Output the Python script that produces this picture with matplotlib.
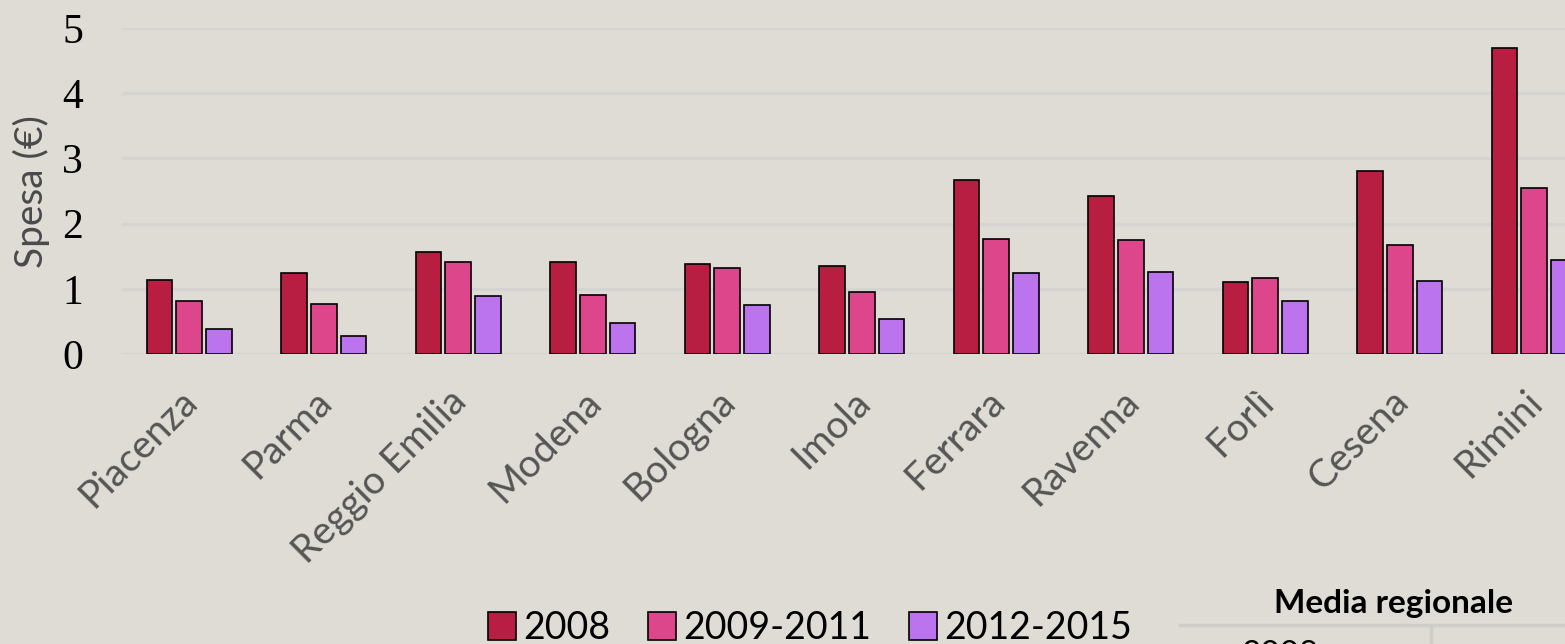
import numpy as np
import matplotlib
matplotlib.use("Agg")
import matplotlib.pyplot as plt
from matplotlib.lines import Line2D
from matplotlib.transforms import ScaledTranslation

# data
cities = ["Piacenza", "Parma", "Reggio Emilia", "Modena", "Bologna", "Imola",
          "Ferrara", "Ravenna", "Forlì", "Cesena", "Rimini"]
spesa_2008 = [1.13, 1.24, 1.56, 1.41, 1.38, 1.35, 2.67, 2.42, 1.10, 2.81, 4.69]
spesa_2009_2011 = [0.81, 0.77, 1.41, 0.90, 1.32, 0.95, 1.76, 1.75, 1.17, 1.67, 2.55]
spesa_2012_2015 = [0.38, 0.28, 0.89, 0.48, 0.75, 0.54, 1.24, 1.26, 0.81, 1.12, 1.44]
series_labels = ["2008", "2009-2011", "2012-2015"]
colors = ["#B81E42", "#DE468C", "#BC73EE"]
bg = "#DFDCD5"

fig = plt.figure(figsize=(15.65, 6.44), dpi=100, facecolor=bg)
W, H = 1565, 644
# axes spans x -0.5..10.5 ; right part is cut by the figure edge
x0, x1 = 122, 122 + 11 * 134.5
y0, y1 = 354, 28
ax = fig.add_axes([x0 / W, 1 - y0 / H, (x1 - x0) / W, (y0 - y1) / H])
ax.set_facecolor(bg)

x = np.arange(len(cities))
w, step = 0.19, 0.22
bars = []
for i, (vals, c) in enumerate(zip([spesa_2008, spesa_2009_2011, spesa_2012_2015], colors)):
    b = ax.bar(x + (i - 1) * step, vals, w, color=c, edgecolor="black",
               linewidth=1.2, zorder=3, label=series_labels[i])
    bars.append(b)

ax.set_xlim(-0.5, 10.5)
ax.set_ylim(0, 5)
ax.set_yticks(range(6))
ax.yaxis.grid(True, color="#D5D4D1", linewidth=2.5, zorder=0)
for s in ax.spines.values():
    s.set_visible(False)
ax.tick_params(axis="both", length=0)
ax.tick_params(axis="y", pad=28)
for t in ax.get_yticklabels():
    t.set_fontfamily("Liberation Serif")
    t.set_fontsize(30)
    t.set_color("black")

ax.set_xticks(x)
ax.set_xticklabels(cities, rotation=45, ha="right", va="top",
                   rotation_mode="anchor", fontfamily="Lato",
                   fontsize=28, color="#555555")
ax.tick_params(axis="x", pad=21)
shift = ScaledTranslation(-10 / 100, 0, fig.dpi_scale_trans)
for t in ax.get_xticklabels():
    t.set_transform(t.get_transform() + shift)

# y axis title
fig.text(31 / W, 1 - 192 / H, "Spesa (€)", rotation=90, ha="center",
         va="center", fontfamily="Lato", fontsize=28, color="#4A4A4A")

fig.legend(handles=bars, labels=series_labels, loc="center",
           bbox_to_anchor=(810 / W, 1 - 628 / H), ncol=3, frameon=False,
           prop={"family": "Lato", "size": 27}, handlelength=0.75,
           handleheight=0.75, handletextpad=0.2, columnspacing=1.0)

# "Media regionale" table, partly cut off
fig.text(1394 / W, 1 - 604 / H, "Media regionale", ha="center", va="center",
         fontfamily="Lato", fontweight="bold", fontsize=24, color="black")
fig.add_artist(Line2D([1180 / W, 1], [1 - 625 / H] * 2, color="#CFCDCA",
                      linewidth=2.5, transform=fig.transFigure))
fig.add_artist(Line2D([1431 / W] * 2, [1 - 627 / H, 0], color="#CFCDCA",
                      linewidth=2.5, transform=fig.transFigure))
fig.text(1280 / W, 1 - 655 / H, "2008", ha="center", va="center",
         fontfamily="Lato", fontsize=24, color="black")

fig.savefig("out.png", dpi=100, facecolor=bg)
